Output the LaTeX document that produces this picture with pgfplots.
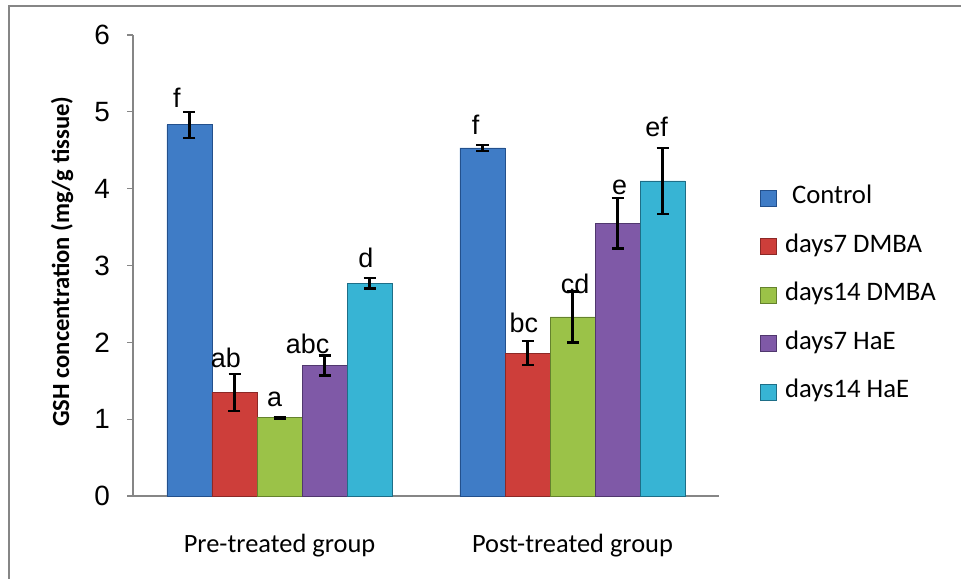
\documentclass[border=0pt]{standalone}
\usepackage{pgfplots}
\pgfplotsset{compat=1.18}
\usepackage{pgfplotstable}
\usepackage{fontspec}
\setmainfont{Carlito}
\newfontfamily\arial{Liberation Sans}
\definecolor{cBlue}{RGB}{63,124,198}
\definecolor{cBlueD}{RGB}{35,80,140}
\definecolor{cRed}{RGB}{205,62,58}
\definecolor{cRedD}{RGB}{140,40,38}
\definecolor{cGreen}{RGB}{155,194,72}
\definecolor{cGreenD}{RGB}{100,130,45}
\definecolor{cPurple}{RGB}{127,89,167}
\definecolor{cPurpleD}{RGB}{80,55,110}
\definecolor{cCyan}{RGB}{55,180,212}
\definecolor{cCyanD}{RGB}{30,110,135}
\definecolor{borderGray}{RGB}{134,134,134}
\definecolor{axisGray}{RGB}{134,134,134}

\pgfplotstableread{
x y err
0 4.83 0.17
1 4.53 0.04
}\tControl
\pgfplotstableread{
x y err
0 1.35 0.24
1 1.86 0.155
}\tDsevenD
\pgfplotstableread{
x y err
0 1.02 0.01
1 2.33 0.33
}\tDfourteenD
\pgfplotstableread{
x y err
0 1.70 0.13
1 3.55 0.33
}\tDsevenH
\pgfplotstableread{
x y err
0 2.77 0.07
1 4.10 0.43
}\tDfourteenH
\pgfplotstableread{
x y lab
-0.350 5.06 f
-0.183 1.67 ab
-0.017 1.16 a
0.096 1.86 abc
0.295 2.98 d
0.669 4.71 f
0.834 2.13 bc
1.009 2.64 cd
1.161 3.93 e
1.287 4.68 ef
}\tLabels

\begin{document}
\begin{tikzpicture}[x=1bp,y=1bp]
\useasboundingbox (0,0) rectangle (961,579);
\clip (0,0) rectangle (961,579);
\draw[color=borderGray, line width=2bp] (9,-20) -- (9,573) -- (990,573);
\begin{axis}[
  at={(133bp,83bp)}, anchor=south west,
  width=586bp, height=461bp, scale only axis,
  clip=false,
  enlargelimits=false,
  xmin=-0.5, xmax=1.5, ymin=0, ymax=6,
  ybar=0pt, bar width=0.1536,
  axis x line=bottom, axis y line=left,
  x axis line style={-, color=axisGray, line width=1.2bp},
  y axis line style={-, color=axisGray, line width=1.2bp},
  xtick={0,1},
  xticklabels={Pre-treated group, Post-treated group},
  x tick style={draw=none},
  xticklabel style={font=\fontsize{26.5}{31}\selectfont, anchor=base, inner sep=0pt, yshift=-51bp},
  ytick={0,1,2,3,4,5,6},
  tick align=outside,
  ytick pos=left,
  y tick style={color=axisGray, line width=1.2bp},
  major tick length=6bp,
  yticklabel style={font=\arial\fontsize{28}{33}\selectfont, anchor=east, inner sep=0pt, xshift=-17bp},
  /pgf/number format/assume math mode=true,
  ylabel={GSH concentration (mg/g tissue)},
  ylabel style={font=\bfseries\fontsize{24.7}{29}\selectfont, at={(axis description cs:-0.121,0.508)}, anchor=center},
  legend style={at={(axis description cs:1.070,0.436)}, anchor=west, draw=none, fill=none, inner sep=0pt,
    font=\fontsize{26.8}{31}\selectfont, row sep=24.5bp,
    nodes={inner sep=0pt, text height=18bp, text depth=6bp}},
  legend cell align=left,
  legend image code/.code={\draw[#1, line width=0.8bp] (0bp,-8bp) rectangle (16bp,8bp); \path (24bp,0bp);},
  error bars/error bar style={black, line width=2.4bp},
  error bars/error mark options={rotate=90, mark size=6bp, line width=2.4bp, black},
]
\addplot[fill=cBlue, draw=cBlueD, line width=0.8bp, error bars/.cd, y dir=both, y explicit] table[x=x, y=y, y error=err]{\tControl};
\addplot[fill=cRed, draw=cRedD, line width=0.8bp, error bars/.cd, y dir=both, y explicit] table[x=x, y=y, y error=err]{\tDsevenD};
\addplot[fill=cGreen, draw=cGreenD, line width=0.8bp, error bars/.cd, y dir=both, y explicit] table[x=x, y=y, y error=err]{\tDfourteenD};
\addplot[fill=cPurple, draw=cPurpleD, line width=0.8bp, error bars/.cd, y dir=both, y explicit] table[x=x, y=y, y error=err]{\tDsevenH};
\addplot[fill=cCyan, draw=cCyanD, line width=0.8bp, error bars/.cd, y dir=both, y explicit] table[x=x, y=y, y error=err]{\tDfourteenH};
\addplot[sharp plot, draw=none, mark=none, forget plot,
  nodes near coords, point meta=explicit symbolic,
  every node near coord/.style={anchor=base, inner sep=0pt, font=\arial\fontsize{27}{32}\selectfont, text=black}]
  table[x=x, y=y, meta=lab]{\tLabels};
\legend{\hspace{7bp}Control, days7 DMBA, days14 DMBA, days7 HaE, days14 HaE}
\end{axis}
\end{tikzpicture}
\end{document}
